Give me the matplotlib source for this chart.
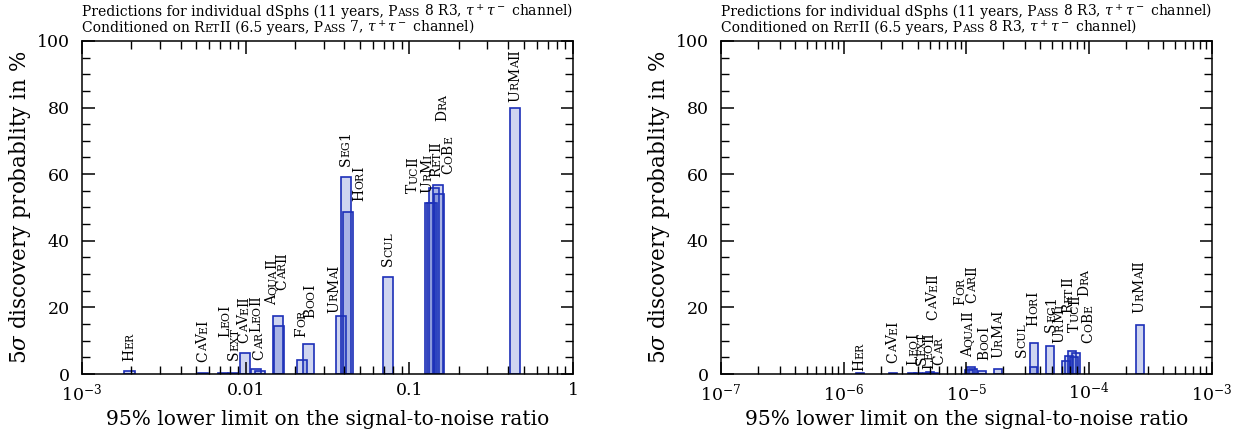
import numpy as np
import matplotlib
matplotlib.use("Agg")
from matplotlib import pyplot as plt
from matplotlib.ticker import MultipleLocator

plt.rcParams['font.family'] = 'DejaVu Serif'
plt.rcParams['mathtext.fontset'] = 'dejavuserif'

# nomes das dSphs (minusculas viram versalete)
nomes = ["Her", "CaVeI", "LeoI", "Sext", "CaVeII", "LeoII", "Car", "AquaII", "CarII", "For", "BooI",
         "UrMaI", "Seg1", "HorI", "Scul", "TucII", "UrMi", "RetII", "CoBe", "Dra", "UrMaII"]

# painel esquerdo (Pass 7)
snr_esq = [0.00195, 0.00548, 0.00726, 0.00835, 0.00995, 0.01156, 0.0123, 0.01569, 0.01597, 0.02208, 0.0242,
           0.0382, 0.0408, 0.0420, 0.0737, 0.1334, 0.1368, 0.1419, 0.1495, 0.152, 0.4415]
prob_esq = [0.8, 0.3, 0.2, 0.3, 6.4, 1.5, 1.0, 17.4, 14.5, 4.2, 8.9,
            17.3, 59.2, 48.7, 29.2, 51.4, 51.4, 55.8, 56.8, 54.0, 80.0]
rot_x_esq = [0.00191, 0.00541, 0.00737, 0.00836, 0.00963, 0.0114, 0.0119, 0.01427, 0.01643, 0.02148, 0.02438,
             0.03412, 0.04013, 0.04887, 0.0730, 0.1044, 0.1263, 0.1443, 0.1709, 0.156, 0.4355]
rot_y_esq = [3.9, 3.6, 11.1, 4.2, 9.3, 12.6, 4.2, 20.7, 25.2, 11.1, 16.8,
             18.3, 62.3, 52.0, 32.4, 54.3, 54.3, 59.0, 60.0, 76.0, 81.8]

# painel direito (Pass 8 R3)
snr_dir = [1.356e-6, 2.52e-6, 3.60e-6, 4.03e-6, 5.04e-6, 4.77e-6, 5.43e-6, 1.089e-5, 1.13e-5, 1.048e-5, 1.337e-5,
           1.805e-5, 4.79e-5, 3.55e-5, 3.52e-5, 6.84e-5, 6.46e-5, 7.24e-5, 7.80e-5, 7.52e-5, 2.59e-4]
prob_dir = [0.2, 0.2, 0.2, 0.2, 0.5, 0.4, 0.4, 2.0, 1.5, 1.2, 0.8,
            1.4, 8.4, 9.2, 2.0, 5.5, 4.0, 6.9, 6.2, 5.0, 14.7]
rot_x_dir = [1.306e-6, 2.47e-6, 3.60e-6, 4.22e-6, 5.24e-6, 4.85e-6, 5.86e-6, 1.019e-5, 1.098e-5, 8.77e-6, 1.362e-5,
             1.79e-5, 4.79e-5, 3.42e-5, 2.75e-5, 7.51e-5, 5.56e-5, 6.59e-5, 9.68e-5, 8.89e-5, 2.52e-4]
rot_y_dir = [1.0, 3.3, 2.7, 2.7, 16.2, 1.4, 2.7, 5.2, 21.4, 20.7, 4.2,
             4.7, 12.7, 14.4, 5.0, 12.7, 9.2, 18.3, 9.4, 23.4, 18.3]

titulo1 = "Predictions for individual dSphs (11 years, {Pass} 8 R3, $\\tau^+\\tau^-$ channel)"
titulo2_esq = "Conditioned on {RetII} (6.5 years, {Pass} 7, $\\tau^+\\tau^-$ channel)"
titulo2_dir = "Conditioned on {RetII} (6.5 years, {Pass} 8 R3, $\\tau^+\\tau^-$ channel)"

largura_log = 0.062
cor_borda = '#1c2fb8'
cor_fundo = (0.15, 0.25, 0.75, 0.22)


def partes_versalete(texto):
    # dentro de {} as minusculas viram maiusculas menores
    partes = []
    dentro = False
    for ch in texto:
        if ch == '{':
            dentro = True
            continue
        if ch == '}':
            dentro = False
            continue
        pequeno = dentro and ch.islower()
        c = ch.upper() if pequeno else ch
        if partes and partes[-1][1] == pequeno:
            partes[-1][0] += c
        else:
            partes.append([c, pequeno])
    return partes


def rotulo(ax, x, y, nome, tam=10):
    anterior = None
    for parte, pequeno in partes_versalete('{' + nome + '}'):
        t = tam * 0.78 if pequeno else tam
        kw = dict(textcoords='offset points', xytext=(0.36 * tam, 0), rotation=90,
                  rotation_mode='anchor', ha='left', va='baseline', fontsize=t)
        if anterior is None:
            anterior = ax.annotate(parte, xy=(x, y), xycoords='data', **kw)
        else:
            anterior = ax.annotate(parte, xy=(x, 1), xycoords=('data', anterior), **kw)


def titulo(ax, y, texto, tam):
    anterior = None
    espaco = 0
    for parte, pequeno in partes_versalete(texto):
        t = tam * 0.78 if pequeno else tam
        desloc = espaco
        s = parte.rstrip(' ')
        espaco = (len(parte) - len(s)) * 0.318 * tam
        if anterior is None:
            anterior = ax.annotate(s, xy=(0, y), xycoords='axes fraction', ha='left', va='baseline', fontsize=t)
        else:
            anterior = ax.annotate(s, xy=(1, y), xycoords=(anterior, 'axes fraction'), xytext=(desloc, 0),
                                   textcoords='offset points', ha='left', va='baseline', fontsize=t)


def barras(ax, snr, prob):
    snr = np.array(snr)
    esq = snr * 10 ** (-largura_log / 2)
    larg = snr * 10 ** (largura_log / 2) - esq
    ax.bar(esq, prob, width=larg, align='edge', facecolor=cor_fundo, edgecolor=cor_borda, linewidth=1.2)


fig = plt.figure(figsize=(12.48, 4.40), dpi=100)
ax1 = fig.add_axes([0.0657, 0.15, 0.3934, 0.757])
ax2 = fig.add_axes([0.5777, 0.15, 0.3934, 0.757])

barras(ax1, snr_esq, prob_esq)
barras(ax2, snr_dir, prob_dir)

for i in range(len(nomes)):
    rotulo(ax1, rot_x_esq[i], rot_y_esq[i], nomes[i])
    rotulo(ax2, rot_x_dir[i], rot_y_dir[i], nomes[i])

ax1.set_xscale('log')
ax2.set_xscale('log')
ax1.set_xlim(1e-3, 1)
ax2.set_xlim(1e-7, 1e-3)
ax1.set_xticks([1e-3, 1e-2, 1e-1, 1], labels=['$10^{-3}$', '0.01', '0.1', '1'])
ax2.set_xticks([1e-7, 1e-6, 1e-5, 1e-4, 1e-3],
               labels=['$10^{-7}$', '$10^{-6}$', '$10^{-5}$', '$10^{-4}$', '$10^{-3}$'])

for ax, t2 in [(ax1, titulo2_esq), (ax2, titulo2_dir)]:
    ax.set_ylim(0, 100)
    ax.yaxis.set_major_locator(MultipleLocator(20))
    ax.yaxis.set_minor_locator(MultipleLocator(5))
    ax.tick_params(which='both', direction='in', top=True, right=True, labelsize=12.5)
    ax.tick_params(which='major', length=9, width=1.1)
    ax.tick_params(which='minor', length=5.5, width=1.0)
    ax.tick_params(axis='y', pad=9)
    ax.tick_params(axis='x', pad=6)
    for sp in ax.spines.values():
        sp.set_linewidth(1.1)
    ax.set_xlabel('95% lower limit on the signal-to-noise ratio', fontsize=14.5)
    ax.set_ylabel('5$\\sigma$ discovery probablity in %', fontsize=15.5)
    ax.yaxis.set_label_coords(-0.1, 0.5)
    titulo(ax, 1.076, titulo1, 10)
    titulo(ax, 1.028, t2, 10)

fig.savefig('out.png', dpi=100)
